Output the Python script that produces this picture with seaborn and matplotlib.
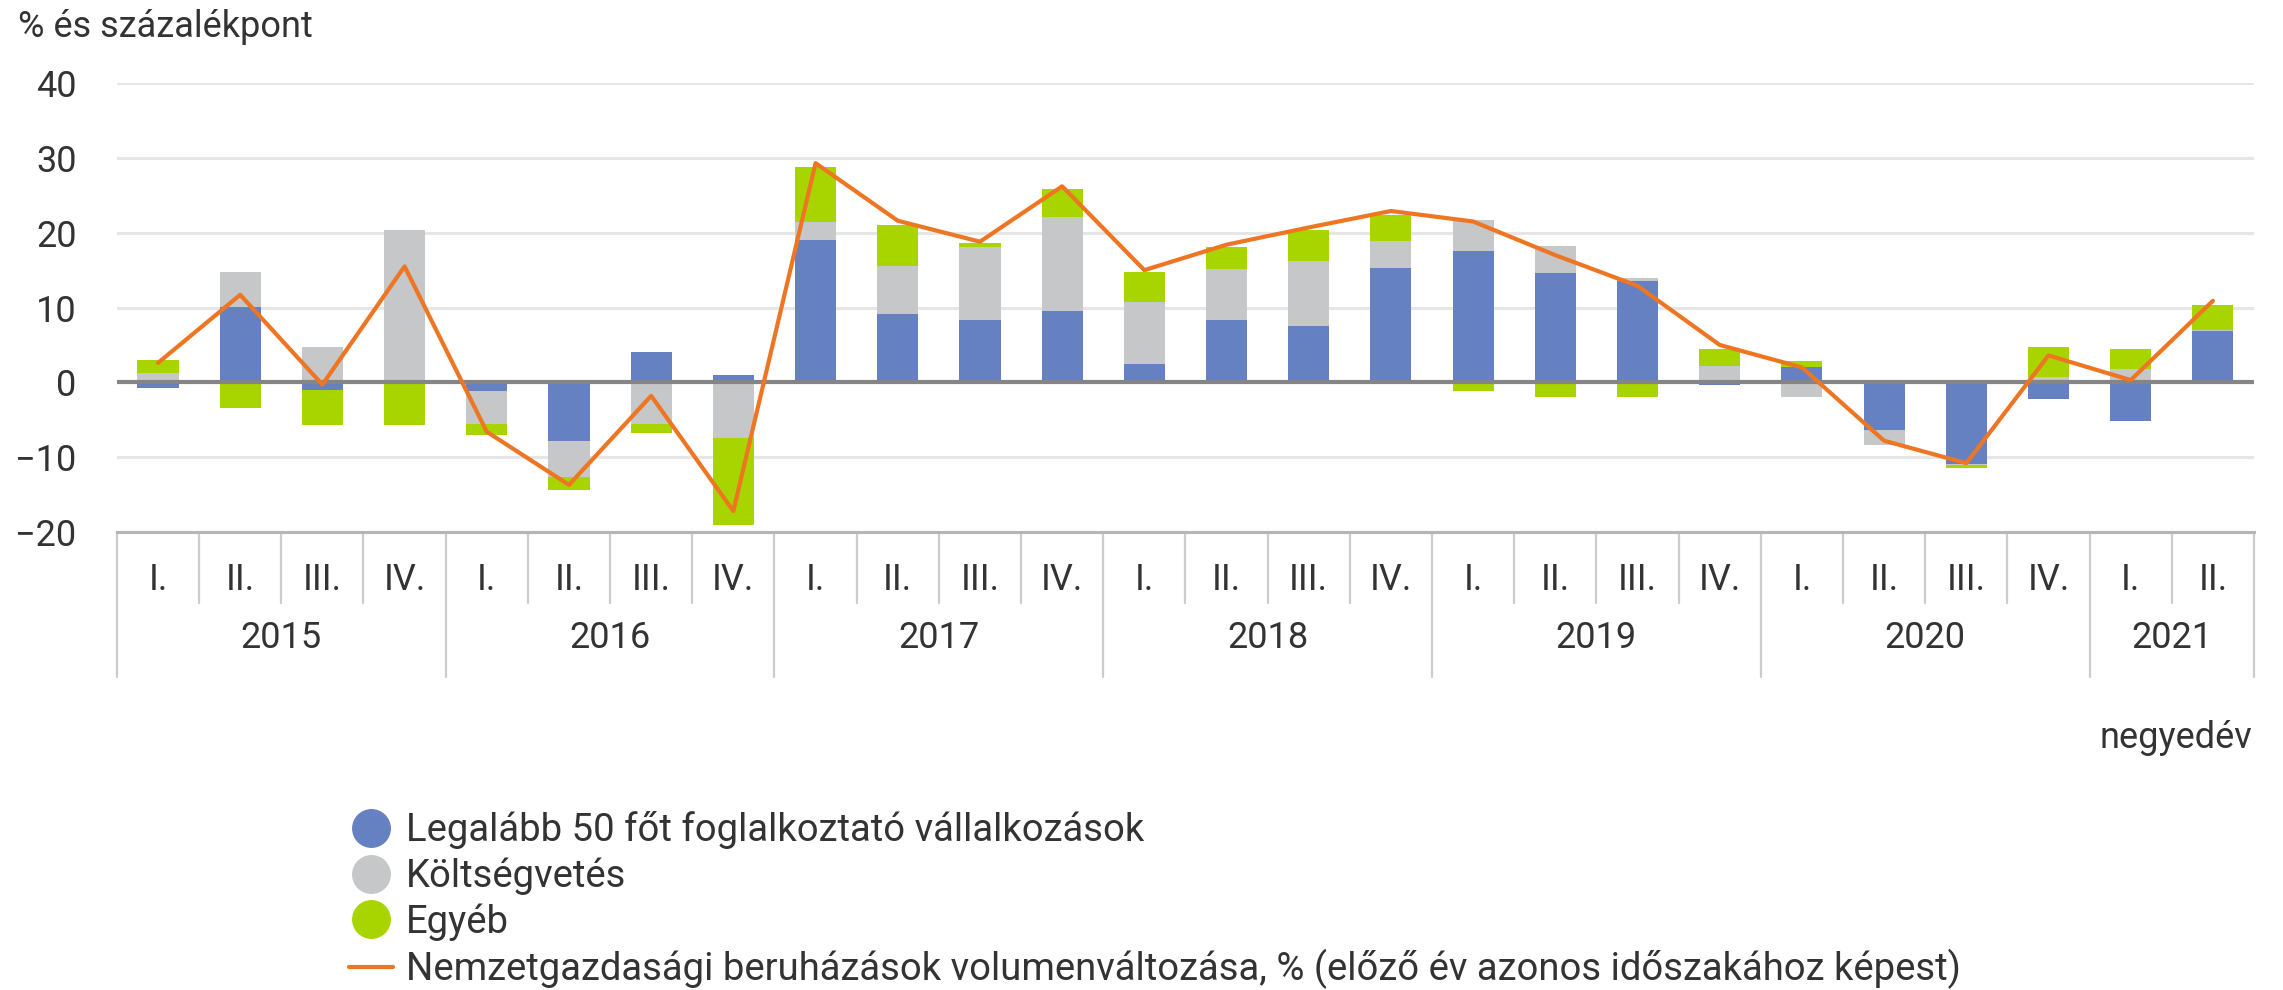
import numpy as np
import pandas as pd
import matplotlib.pyplot as plt
import matplotlib.transforms as mtransforms
from matplotlib.lines import Line2D
import seaborn as sns

# Data (percent / percentage points)
years = ["2015", "2016", "2017", "2018", "2019", "2020", "2021"]
quarters = ["I.", "II.", "III.", "IV."]
quarters_per_year = [4, 4, 4, 4, 4, 4, 2]

vallalkozasok = [-0.8, 10.1, -1.0, 0.0,
                 -1.2, -7.8, 4.0, 1.0,
                 19.0, 9.2, 8.4, 9.5,
                 2.4, 8.4, 7.6, 15.3,
                 17.6, 14.6, 13.6, -0.3,
                 2.0, -6.4, -10.9, -2.2,
                 -5.1, 6.9]
koltsegvetes = [1.3, 4.7, 4.7, 20.3,
                -4.4, -4.8, -5.6, -7.4,
                2.4, 6.3, 9.7, 12.6,
                8.3, 6.7, 8.6, 3.6,
                4.1, 3.6, 0.4, 2.2,
                -1.9, -2.0, -0.1, 0.7,
                1.8, 0.1]
egyeb = [1.7, -3.4, -4.7, -5.7,
         -1.4, -1.8, -1.1, -11.7,
         7.4, 5.5, 0.5, 3.7,
         4.1, 3.0, 4.1, 3.5,
         -1.1, -1.9, -1.9, 2.2,
         0.9, 0.3, -0.4, 4.0,
         2.6, 3.3]
volumen = [2.6, 11.7, -0.3, 15.5,
           -6.6, -13.7, -1.8, -17.2,
           29.3, 21.6, 18.8, 26.2,
           15.0, 18.4, 20.7, 22.9,
           21.5, 17.0, 12.9, 5.0,
           2.0, -7.8, -10.8, 3.6,
           0.3, 10.9]

series_labels = ["Legalább 50 főt foglalkoztató vállalkozások",
                 "Költségvetés",
                 "Egyéb"]
line_label = "Nemzetgazdasági beruházások volumenváltozása, % (előző év azonos időszakához képest)"

bar_colors = ["#6681c1", "#c6c7c9", "#a8d500"]
line_color = "#ee7623"
text_color = "#333333"
FONT_SIZE = 26
LEGEND_SIZE = 27.5

sns.set_style("white")
plt.rcParams["font.family"] = ["Roboto", "DejaVu Sans"]
plt.rcParams["font.size"] = FONT_SIZE
plt.rcParams["text.color"] = text_color

periods = [f"{y} {q}" for y, n in zip(years, quarters_per_year) for q in quarters[:n]]
quarter_labels = [q for n in quarters_per_year for q in quarters[:n]]
n = len(periods)

fig = plt.figure(figsize=(22.83, 9.9), dpi=100)
ax = fig.add_axes([0.0512, 0.4626, 0.9361, 0.4535])

# stacked bars, positives and negatives stacked separately from zero
pos_base = np.zeros(n)
neg_base = np.zeros(n)
for vals, color in zip([vallalkozasok, koltsegvetes, egyeb], bar_colors):
    vals = np.array(vals)
    bottom = np.where(vals >= 0, pos_base, neg_base)
    df = pd.DataFrame({"period": periods, "value": vals})
    sns.barplot(data=df, x="period", y="value", order=periods, color=color,
                saturation=1, width=0.5, errorbar=None, bottom=bottom,
                linewidth=0, ax=ax, zorder=3)
    pos_base += np.clip(vals, 0, None)
    neg_base += np.clip(vals, None, 0)

ax.axhline(0, color="#858585", lw=3, zorder=4)
sns.lineplot(x=np.arange(n), y=volumen, color=line_color, lw=3, ax=ax, zorder=5)

ax.set_xlim(-0.5, n - 0.5)
ax.set_ylim(-20, 40)
ax.set_yticks(range(-20, 41, 10))
ax.yaxis.grid(True, color="#e6e6e6", lw=2.2)
ax.set_axisbelow(True)
ax.set_xticks([])
ax.set_xlabel("")
ax.set_ylabel("")
ax.tick_params(axis="y", length=0, pad=29, labelsize=FONT_SIZE, labelcolor=text_color)
for side in ["left", "right", "top"]:
    ax.spines[side].set_visible(False)
ax.spines["bottom"].set_color("#b5b5b5")
ax.spines["bottom"].set_linewidth(2.2)

# two-level category axis
trans = mtransforms.blended_transform_factory(ax.transData, ax.transAxes)
year_edges = np.cumsum([0] + quarters_per_year)
for i, q in enumerate(quarter_labels):
    ax.text(i, -0.107, q, ha="center", va="center", transform=trans,
            fontsize=FONT_SIZE, color=text_color)
for i in range(n + 1):
    low = -0.323 if i in year_edges else -0.158
    ax.plot([i - 0.5, i - 0.5], [0, low], transform=trans, clip_on=False,
            color="#cccccc", lw=1.6)
for y, start, cnt in zip(years, year_edges[:-1], quarters_per_year):
    ax.text(start + (cnt - 1) / 2, -0.236, y, ha="center", va="center",
            transform=trans, fontsize=FONT_SIZE, color=text_color)

fig.text(18 / 2283, 1 - 27 / 990, "% és százalékpont", ha="left", va="center",
         fontsize=FONT_SIZE)
fig.text(2252 / 2283, 1 - 738 / 990, "negyedév", ha="right", va="center",
         fontsize=FONT_SIZE)

handles = [Line2D([], [], marker="o", ls="none", ms=27, mfc=c, mec=c) for c in bar_colors]
handles.append(Line2D([], [], color=line_color, lw=3))
fig.legend(handles, series_labels + [line_label], loc="upper left",
           bbox_to_anchor=(349 / 2283, 1 - 811 / 990), frameon=False,
           borderpad=0, borderaxespad=0, handlelength=1.15, handletextpad=0.34,
           labelspacing=0.22, fontsize=LEGEND_SIZE)

fig.savefig("out.png", dpi=100, facecolor="white")
